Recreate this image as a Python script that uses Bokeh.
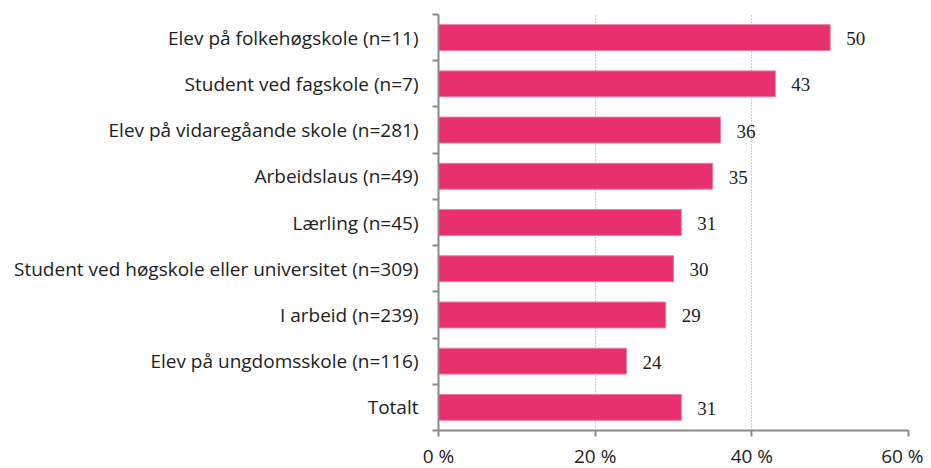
from bokeh.plotting import figure
from bokeh.models import ColumnDataSource, Range1d, FixedTicker, LabelSet
from bokeh.embed import file_html
from bokeh.resources import INLINE

categories = [
    "Elev på folkehøgskole (n=11)",
    "Student ved fagskole (n=7)",
    "Elev på vidaregåande skole (n=281)",
    "Arbeidslaus (n=49)",
    "Lærling (n=45)",
    "Student ved høgskole eller universitet (n=309)",
    "I arbeid (n=239)",
    "Elev på ungdomsskole (n=116)",
    "Totalt",
]
values = [50, 43, 36, 35, 31, 30, 29, 24, 31]
x_ticks = [0, 20, 40, 60]
x_tick_labels = ["0 %", "20 %", "40 %", "60 %"]

n = len(categories)
ypos = [n - 0.5 - i for i in range(n)]
src = ColumnDataSource(dict(y=ypos, v=values, lab=[str(v) for v in values]))

FONT = "Open Sans"
FS = "19px"
p = figure(frame_width=470, frame_height=416, output_backend="svg", toolbar_location=None,
           x_range=Range1d(0, 60), y_range=Range1d(0, n),
           min_border_left=438, min_border_right=15, min_border_top=14, min_border_bottom=0)
p.outline_line_color = None
p.hbar(y="y", right="v", left=0, height=0.56, source=src,
       fill_color="#E8306F", line_color="#F07AA0", line_width=1)

labels = LabelSet(x="v", y="y", text="lab", source=src, x_offset=16, y_offset=-1,
                  text_baseline="middle", text_font_size=FS, text_color="#222222",
                  text_font=FONT)
p.add_layout(labels)

p.xaxis.ticker = FixedTicker(ticks=x_ticks)
p.xaxis.major_label_overrides = {t: l for t, l in zip(x_ticks, x_tick_labels)}
p.xaxis.axis_line_color = "#8a8a8a"
p.xaxis.axis_line_width = 2
p.xaxis.major_tick_line_color = "#8a8a8a"
p.xaxis.major_tick_line_width = 2
p.xaxis.major_tick_out = 6
p.xaxis.major_tick_in = 0
p.xaxis.minor_tick_line_color = None
p.xaxis.major_label_text_font = FONT
p.xaxis.major_label_text_font_size = FS
p.xaxis.major_label_text_color = "#222222"
p.xaxis.major_label_standoff = 6

p.yaxis.ticker = FixedTicker(ticks=ypos, minor_ticks=list(range(n + 1)))
p.yaxis.major_label_overrides = {y: c for y, c in zip(ypos, categories)}
p.yaxis.axis_line_color = "#8a8a8a"
p.yaxis.axis_line_width = 2
p.yaxis.major_tick_line_color = None
p.yaxis.minor_tick_line_color = "#8a8a8a"
p.yaxis.minor_tick_line_width = 2
p.yaxis.minor_tick_out = 6
p.yaxis.minor_tick_in = 0
p.yaxis.major_label_text_font = FONT
p.yaxis.major_label_text_font_size = FS
p.yaxis.major_label_text_color = "#222222"
p.yaxis.major_label_standoff = 14

p.ygrid.grid_line_color = None
p.xgrid.grid_line_color = "#999999"
p.xgrid.grid_line_dash = "1 2"
p.xgrid.grid_line_width = 1

open("out.html", "w").write(file_html(p, INLINE))
